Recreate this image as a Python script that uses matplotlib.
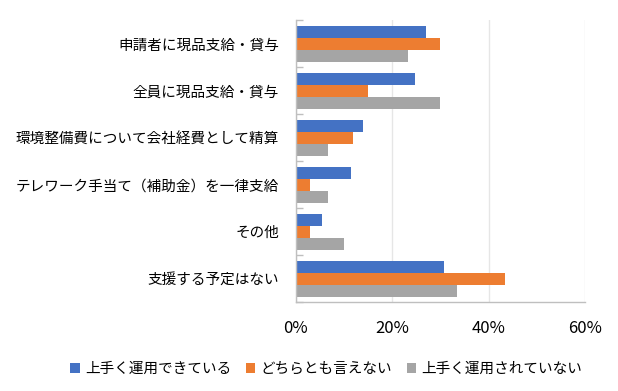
import numpy as np
import matplotlib.pyplot as plt
from matplotlib.ticker import FuncFormatter

plt.rcParams['font.family'] = ['Noto Sans CJK JP', 'DejaVu Sans']

# Data (top to bottom)
categories = ['申請者に現品支給・貸与', '全員に現品支給・貸与', '環境整備費について会社経費として精算',
              'テレワーク手当て（補助金）を一律支給', 'その他', '支援する予定はない']
series_names = ['上手く運用できている', 'どちらとも言えない', '上手く運用されていない']
good = [27.1, 24.7, 13.9, 11.5, 5.5, 30.7]
neutral = [29.9, 15.0, 11.9, 3.0, 3.0, 43.3]
bad = [23.3, 29.9, 6.7, 6.7, 10.0, 33.4]
xticks = [0, 20, 40, 60]

colors = ['#4472C4', '#ED7D31', '#A5A5A5']
spine_color = '#BFBFBF'

fig = plt.figure(figsize=(6.18, 3.91), dpi=100)
ax = fig.add_axes([0.4785, 0.2276, 0.4685, 0.7204])

y = np.arange(len(categories))
h = 0.256
for k, vals in enumerate([good, neutral, bad]):
    ax.barh(y + (k - 1) * h, vals, height=h, color=colors[k], label=series_names[k], zorder=2)

ax.set_ylim(len(categories) - 0.5, -0.5)
ax.set_xlim(0, 60)
ax.set_xticks(xticks)
ax.xaxis.set_major_formatter(FuncFormatter(lambda v, p: f'{v:.0f}%'))
ax.grid(axis='x', color='#E6E6E6', linewidth=1, zorder=0)

ax.set_yticks(y)
ax.set_yticklabels(categories, fontsize=10.5)
ax.set_yticks(np.arange(len(categories) + 1) - 0.5, minor=True)
ax.tick_params(axis='y', which='major', length=0, pad=12)
ax.tick_params(axis='y', which='minor', length=5, direction='in', color=spine_color, width=1)
ax.tick_params(axis='x', length=0, pad=13, labelsize=12)

for s in ['top', 'right']:
    ax.spines[s].set_visible(False)
for s in ['left', 'bottom']:
    ax.spines[s].set_color(spine_color)
    ax.spines[s].set_linewidth(1)

leg = fig.legend(loc='lower center', bbox_to_anchor=(0.528, 0.005), ncol=3, frameon=False,
                 fontsize=10.5, handlelength=0.65, handleheight=0.65, handletextpad=0.35,
                 columnspacing=1.0)

plt.savefig('out.png', dpi=100)
